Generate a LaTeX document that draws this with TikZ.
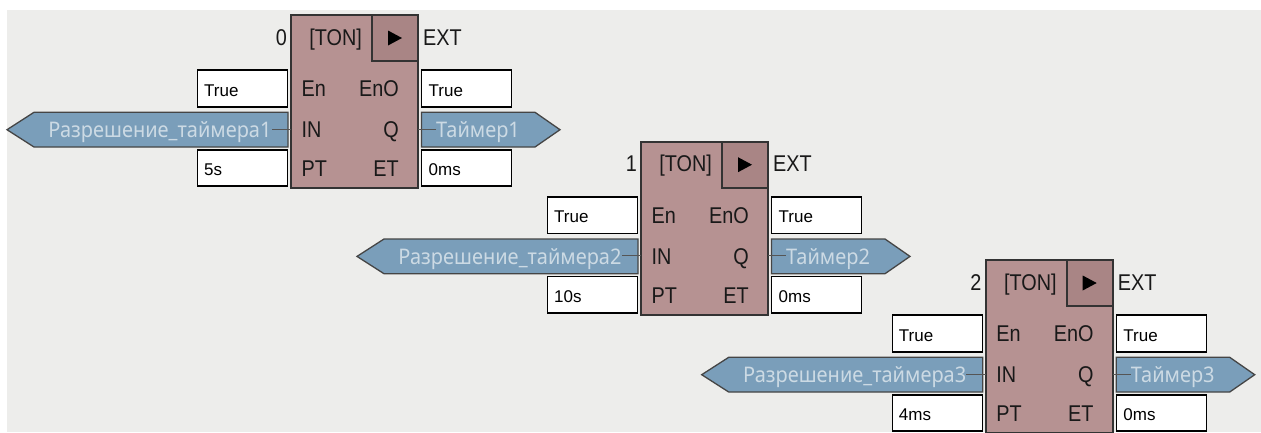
\documentclass[tikz,border=0pt]{standalone}
\usepackage{fontspec}
\setmainfont{Liberation Sans}
\newfontfamily\lblfont{Liberation Sans}[FakeStretch=0.87]
\newfontfamily\tagfont{Noto Sans}[FakeStretch=0.93]
\definecolor{bg}{HTML}{EDEDEB}
\definecolor{boxfill}{HTML}{B69292}
\definecolor{sqfill}{HTML}{A98585}
\definecolor{boxline}{HTML}{333333}
\definecolor{tagfill}{HTML}{7A9EBA}
\definecolor{tagline}{HTML}{454545}
\definecolor{tagtext}{HTML}{CCDAE4}
\definecolor{connline}{HTML}{555555}
\tikzset{
 mainbox/.style={draw=boxline, fill=boxfill, line width=1.6pt, minimum width=127pt, minimum height=173pt, inner sep=0pt},
 sqbox/.style={draw=boxline, fill=sqfill, line width=1.6pt, minimum width=46pt, minimum height=46pt, inner sep=0pt},
 valbox/.style={draw=black, fill=white, line width=1.6pt, minimum width=90pt, minimum height=36.5pt, inner sep=0pt},
 valtxt/.style={font=\fontsize{17}{20}\selectfont, inner sep=0pt, anchor=base west},
 lbl/.style={font=\lblfont\fontsize{22.8}{26}\selectfont, inner sep=0pt, text=black!90},
 tagshape/.style={draw=tagline, fill=tagfill, line width=1.3pt, line join=miter},
 tagtxt/.style={font=\tagfont\fontsize{21.5}{25}\selectfont, text=tagtext, inner sep=0pt, anchor=base},
 conn/.style={draw=connline, line width=1pt},
}
\newcommand\tonblk[7]{%
\begin{scope}[shift={(#2,#3)}]
 \node[mainbox] (#1box) at (63.5,86.5) {};
 \node[sqbox, anchor=north east] (#1sq) at (#1box.north east) {};
 \fill ([xshift=-7pt,yshift=7.5pt]#1sq.center) -- ([xshift=-7pt,yshift=-7.5pt]#1sq.center) -- ([xshift=7pt]#1sq.center) -- cycle;
 \node[lbl, anchor=base east] (#1num) at (-4,30) {#4};
 \node[lbl, anchor=base] (#1ton) at (44.7,30) {[TON]};
 \node[lbl, anchor=base west] (#1ext) at (132,30) {EXT};
 \node[lbl, anchor=base west] (#1en) at (10.5,81.7) {En};
 \node[lbl, anchor=base east] (#1eno) at (108,81.7) {EnO};
 \node[lbl, anchor=base west] (#1inl) at (10.5,122.3) {IN};
 \node[lbl, anchor=base east] (#1q) at (108,122.3) {Q};
 \node[lbl, anchor=base west] (#1ptl) at (10.5,161.3) {PT};
 \node[lbl, anchor=base east] (#1etl) at (108,161.3) {ET};
 % value boxes
 \node[valbox] (#1env) at (-48.4,73.5) {};
 \node[valtxt] (#1envt) at (-87,81) {True};
 \node[valbox] (#1ptv) at (-48.4,153) {};
 \node[valtxt] (#1ptvt) at (-87,160.5) {#6};
 \node[valbox] (#1enov) at (175.6,73.5) {};
 \node[valtxt] (#1enovt) at (137.5,81) {True};
 \node[valbox] (#1etv) at (175.6,153) {};
 \node[valtxt] (#1etvt) at (137.5,160.5) {0ms};
 % tags
 \draw[tagshape] (-3,97.3) -- (-257,97.3) -- (-284,114.7) -- (-257,132) -- (-3,132) -- cycle;
 \node[tagtxt] (#1intag) at (-131,122.3) {#5};
 \coordinate (#1inpin) at (0,114);
 \draw[conn] (#1inpin) -- (#1intag.east |- #1inpin);
 \draw[tagshape] (130.5,97.3) -- (244,97.3) -- (269,114.7) -- (244,132) -- (130.5,132) -- cycle;
 \node[tagtxt] (#1outtag) at (187,122.3) {#7};
 \coordinate (#1outpin) at (127,114);
 \draw[conn] (#1outpin) -- (#1outtag.west |- #1outpin);
\end{scope}}
\begin{document}
\begin{tikzpicture}[x=1pt,y=-1pt]
\useasboundingbox (0,0) rectangle (1261,432);
\fill[bg] (7,10) rectangle (1261,432);
\tonblk{a}{291}{15}{0}{Разрешение\_таймера1}{5s}{Таймер1}
\tonblk{b}{641}{141.7}{1}{Разрешение\_таймера2}{10s}{Таймер2}
\tonblk{c}{985.7}{260}{2}{Разрешение\_таймера3}{4ms}{Таймер3}
\end{tikzpicture}
\end{document}
